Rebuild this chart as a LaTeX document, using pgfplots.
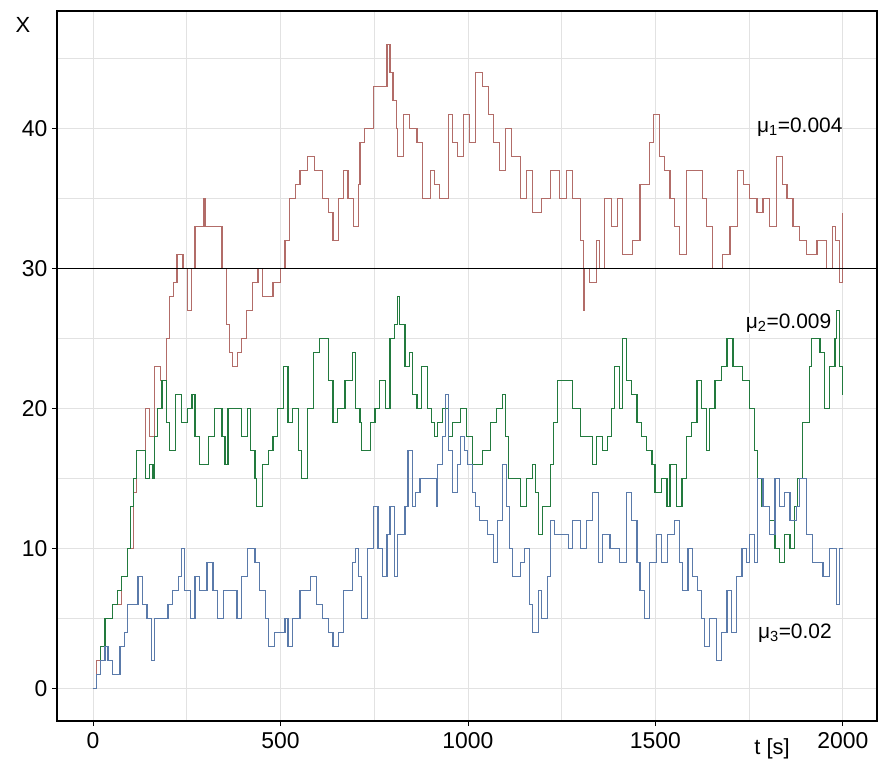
\documentclass[border=0pt]{standalone}
\usepackage{fontspec}
\setmainfont{Liberation Sans}
\usepackage{pgfplots}
\pgfplotsset{compat=1.18}
\definecolor{cred}{RGB}{178,108,104}
\definecolor{cgreen}{RGB}{34,122,62}
\definecolor{cblue}{RGB}{90,122,170}
\definecolor{cgrid}{RGB}{226,226,226}
\pgfplotstableread{
t y
0 0
10 2
19 3
32 5
51 6
77 8
91 10
107 14
117 17
139 20
150 18
165 23
180 22
197 25
205 28
215 29
224 31
240 30
253 27
262 30
272 33
296 35
300 33
333 33
344 30
357 26
365 24
372 23
385 24
397 25
410 27
425 29
440 30
453 28
480 29
499 30
512 32
525 35
540 36
552 37
573 38
590 37
600 37
613 35
627 34
640 32
655 35
667 37
680 35
694 33
707 36
712 39
725 40
747 43
765 43
784 46
792 44
800 42
810 40
813 38
827 41
845 40
864 39
880 35
899 37
912 36
925 35
947 41
960 39
971 38
987 41
1005 39
1019 44
1040 43
1055 41
1067 39
1085 37
1099 40
1117 38
1139 35
1157 37
1173 34
1195 35
1219 37
1245 35
1264 37
1280 35
1299 32
1307 27
1312 30
1325 29
1344 32
1352 30
1365 35
1384 33
1400 35
1413 31
1440 32
1459 36
1485 39
1496 41
1512 38
1525 37
1539 35
1552 33
1565 31
1584 37
1611 37
1625 35
1637 33
1653 30
1680 31
1699 33
1720 37
1735 36
1752 35
1771 34
1787 35
1805 33
1824 38
1840 36
1851 35
1867 33
1885 32
1904 31
1931 32
1957 30
1973 33
1980 32
1992 29
2000 34
}\redtab
\pgfplotstableread{
t y
0 0
10 1
19 3
32 5
51 6
65 7
77 8
91 10
99 13
107 15
117 17
139 15
150 16
160 15
165 18
173 20
184 22
197 19
205 17
219 21
237 19
251 20
264 21
272 18
285 16
307 18
325 20
344 18
352 16
360 20
387 20
397 18
411 20
419 17
432 15
437 13
451 16
467 17
480 18
493 20
507 23
520 19
533 20
547 17
557 15
573 20
587 24
605 25
627 22
640 19
653 20
672 22
693 24
699 20
712 19
717 17
739 19
752 20
765 22
779 20
792 25
805 26
811 28
818 26
832 23
845 24
853 21
864 20
877 23
891 20
904 19
912 18
920 19
931 20
947 18
960 19
979 20
997 18
1013 16
1040 17
1059 19
1077 20
1091 21
1099 18
1107 15
1120 15
1139 13
1157 15
1171 16
1179 14
1187 11
1200 13
1219 16
1227 19
1240 22
1264 22
1280 20
1299 18
1317 18
1333 16
1344 18
1360 17
1372 18
1384 20
1392 23
1405 20
1413 25
1424 22
1437 21
1451 19
1464 18
1477 17
1491 16
1499 14
1517 15
1531 13
1539 16
1557 13
1571 15
1584 18
1597 19
1611 22
1624 20
1637 17
1645 20
1659 22
1677 23
1691 25
1707 23
1733 22
1752 20
1765 17
1773 15
1784 13
1805 12
1819 10
1832 9
1845 11
1859 10
1872 13
1880 15
1893 19
1912 23
1917 25
1939 24
1952 20
1965 23
1979 25
1984 27
1992 23
2000 21
}\greentab
\pgfplotstableread{
t y
0 0
10 1
19 2
32 3
40 2
51 1
72 3
85 4
93 6
120 8
133 6
144 5
157 2
165 5
200 6
213 7
227 8
235 10
245 7
259 5
272 8
285 7
304 9
320 7
333 5
347 7
375 7
384 5
397 8
411 10
432 9
445 7
459 5
467 3
485 4
512 5
520 3
533 5
552 7
579 8
597 6
611 5
627 4
640 3
655 4
667 7
691 9
699 10
707 8
717 5
731 6
733 10
747 13
760 10
771 8
784 11
792 13
805 8
813 11
832 13
840 17
851 13
859 14
872 15
885 15
917 13
920 16
931 18
939 21
947 17
960 14
971 16
979 18
992 17
1000 16
1011 14
1019 13
1032 12
1051 11
1067 9
1080 12
1093 16
1104 13
1112 10
1120 8
1139 9
1152 10
1165 6
1173 4
1187 7
1197 5
1211 8
1219 12
1232 11
1253 11
1267 10
1280 12
1299 10
1317 12
1331 14
1347 9
1360 11
1379 10
1405 9
1413 9
1424 14
1437 12
1451 9
1459 7
1472 5
1485 9
1504 11
1517 9
1533 11
1552 12
1565 9
1573 7
1587 10
1600 8
1613 7
1624 5
1632 3
1645 5
1664 2
1677 4
1691 7
1704 4
1717 8
1731 10
1744 9
1752 11
1765 9
1773 15
1787 13
1805 11
1819 15
1832 13
1845 14
1859 12
1877 13
1885 15
1904 11
1920 9
1947 8
1965 10
1984 6
1992 10
2000 10
}\bluetab
\begin{document}
\begin{tikzpicture}
\path (0bp,0bp) rectangle (883bp,769bp);
\begin{axis}[
  at={(57bp,48bp)}, anchor=south west,
  scale only axis, width=820bp, height=710bp,
  xmin=-96, xmax=2091, ymin=-2.3, ymax=48.4,
  xtick={0,500,1000,1500,2000},
  ytick={0,10,20,30,40},
  minor xtick={250,750,1250,1750},
  minor ytick={5,15,25,35,45},
  grid=both,
  major grid style={cgrid, line width=0.8bp},
  minor grid style={cgrid, line width=0.8bp},
  axis line style={black, line width=1.4bp},
  tick align=outside,
  major tick length=5bp, minor tick length=0pt,
  tick style={black, line width=0.8bp},
  xtick pos=bottom, ytick pos=left,
  /pgf/number format/assume math mode=true,
  /pgf/number format/1000 sep={},
  tick label style={font=\fontsize{23}{26}\selectfont},
  xticklabel style={yshift=-3bp},
  yticklabel style={xshift=-1bp},
  clip=true,
]
\addplot[const plot, cred, line width=1.1bp] table[x=t,y=y]{\redtab};
\addplot[const plot, cgreen, line width=1.1bp] table[x=t,y=y]{\greentab};
\addplot[const plot, cblue, line width=1.1bp] table[x=t,y=y]{\bluetab};
\addplot[black, line width=1.2bp] coordinates {(-96,30) (2091,30)};
\node[font=\fontsize{21}{24}\selectfont] at (axis cs:1885,40.1) {μ\textsubscript{1}=0.004};
\node[font=\fontsize{21}{24}\selectfont, fill=white, inner sep=1bp] at (axis cs:1855,26.1) {μ\textsubscript{2}=0.009};
\node[font=\fontsize{21}{24}\selectfont] at (axis cs:1872,4.0) {μ\textsubscript{3}=0.02};
\end{axis}
\node[font=\fontsize{22}{24}\selectfont] at (23bp,744bp) {X};
\node[font=\fontsize{22}{24}\selectfont] at (772bp,20bp) {t [s]};
\end{tikzpicture}
\end{document}
